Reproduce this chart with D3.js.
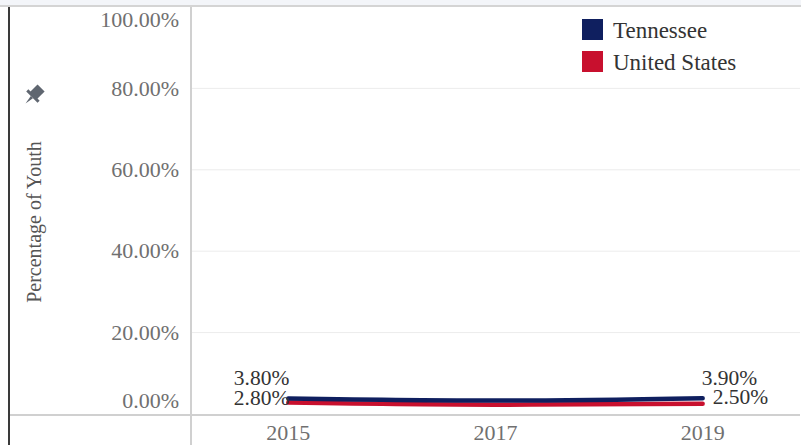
<!DOCTYPE html>
<html><head><meta charset="utf-8">
<script src="https://cdn.jsdelivr.net/npm/d3@7"></script>
<style>
html,body{margin:0;padding:0;background:#fff;}
svg{display:block;}
text{font-family:"Liberation Serif","Times New Roman",serif;}
</style></head>
<body>
<svg id="c" width="801" height="445"></svg>
<script>
const years = ["2015","2017","2019"];
const tennessee = [3.8, 3.3, 3.9];
const unitedStates = [2.8, 2.3, 2.5];
const seriesNames = ["Tennessee","United States"];
const seriesColors = ["#0f1f5f","#c8102e"];
const yTicks = [0,20,40,60,80,100];
const yTitle = "Percentage of Youth";

(function(){
const W=801,H=445;
const pLeft=191,pRight=800,pTop=7,pBottom=414;
const svg=d3.select("#c");

svg.append("rect").attr("x",0).attr("y",0).attr("width",W).attr("height",5).attr("fill","#f3f5f9");
svg.append("line").attr("x1",0).attr("x2",W).attr("y1",6).attr("y2",6).attr("stroke","#d4d4d4").attr("stroke-width",2);

const x=d3.scalePoint().domain(years).range([pLeft,pRight]).padding(0.47);
const y=d3.scaleLinear().domain([0,100]).range([pBottom,pTop]);

svg.append("g").selectAll("line").data(yTicks.filter(d=>d>0&&d<100)).join("line")
  .attr("x1",pLeft).attr("x2",pRight).attr("y1",d=>y(d)).attr("y2",d=>y(d))
  .attr("stroke","#ececec").attr("stroke-width",1);

const fmt=d=>d.toFixed(2)+"%";
svg.append("g").selectAll("text").data(yTicks).join("text")
  .attr("x",179).attr("y",d=> d===100 ? y(d)+13 : d===0 ? y(d)-13 : y(d))
  .attr("dy","0.33em").attr("text-anchor","end")
  .attr("font-size",22).attr("fill","#707070").text(fmt);

svg.append("line").attr("x1",pLeft).attr("x2",pLeft).attr("y1",7).attr("y2",H).attr("stroke","#d0d0d0").attr("stroke-width",2);
svg.append("line").attr("x1",10).attr("x2",pRight).attr("y1",415).attr("y2",415).attr("stroke","#d0d0d0").attr("stroke-width",2);
svg.append("line").attr("x1",9).attr("x2",9).attr("y1",7).attr("y2",H).attr("stroke","#3a3a3a").attr("stroke-width",2);

svg.append("g").selectAll("text").data(years).join("text")
  .attr("x",d=>x(d)).attr("y",433).attr("dy","0.33em").attr("text-anchor","middle")
  .attr("font-size",22).attr("fill","#707070").text(d=>d);

svg.append("text").attr("transform","translate(34,222) rotate(-90)")
  .attr("text-anchor","middle").attr("dy","0.33em").attr("font-size",20).attr("fill","#555").text(yTitle);
const pin=svg.append("g").attr("transform","translate(34,95) rotate(45)").attr("fill","#5f6670");
pin.append("rect").attr("x",-5).attr("y",-10).attr("width",10).attr("height",11);
pin.append("rect").attr("x",-8).attr("y",0).attr("width",16).attr("height",3);
pin.append("path").attr("d","M-1.5,3 L0,12 L1.5,3 Z");

const series=[tennessee,unitedStates];
const line=d3.line().x((d,i)=>x(years[i])).y(d=>y(d)).curve(d3.curveMonotoneX);
series.slice().reverse().forEach((s,ri)=>{
  const i=series.length-1-ri;
  svg.append("path").attr("d",line(s)).attr("fill","none").attr("stroke",seriesColors[i])
    .attr("stroke-width",4.5).attr("stroke-linecap","round");
});

const lf=d=>d.toFixed(2)+"%";
const last=years.length-1;
const lab=(xx,yy,anchor,t)=>svg.append("text").attr("x",xx).attr("y",yy).attr("text-anchor",anchor).attr("font-size",21.5).attr("fill","#333").text(t);
lab(x(years[0])+1,385,"end",lf(tennessee[0]));
lab(x(years[0])+1,405,"end",lf(unitedStates[0]));
lab(x(years[last])-1,385,"start",lf(tennessee[last]));
lab(x(years[last])+10,404,"start",lf(unitedStates[last]));

const lg=svg.append("g").selectAll("g").data(seriesNames).join("g")
  .attr("transform",(d,i)=>`translate(582,${19+i*32})`);
lg.append("rect").attr("width",21).attr("height",21).attr("fill",(d,i)=>seriesColors[i]);
lg.append("text").attr("x",31).attr("y",11).attr("dy","0.33em").attr("font-size",23).attr("fill","#333").text(d=>d);
})();
</script>
</body></html>
